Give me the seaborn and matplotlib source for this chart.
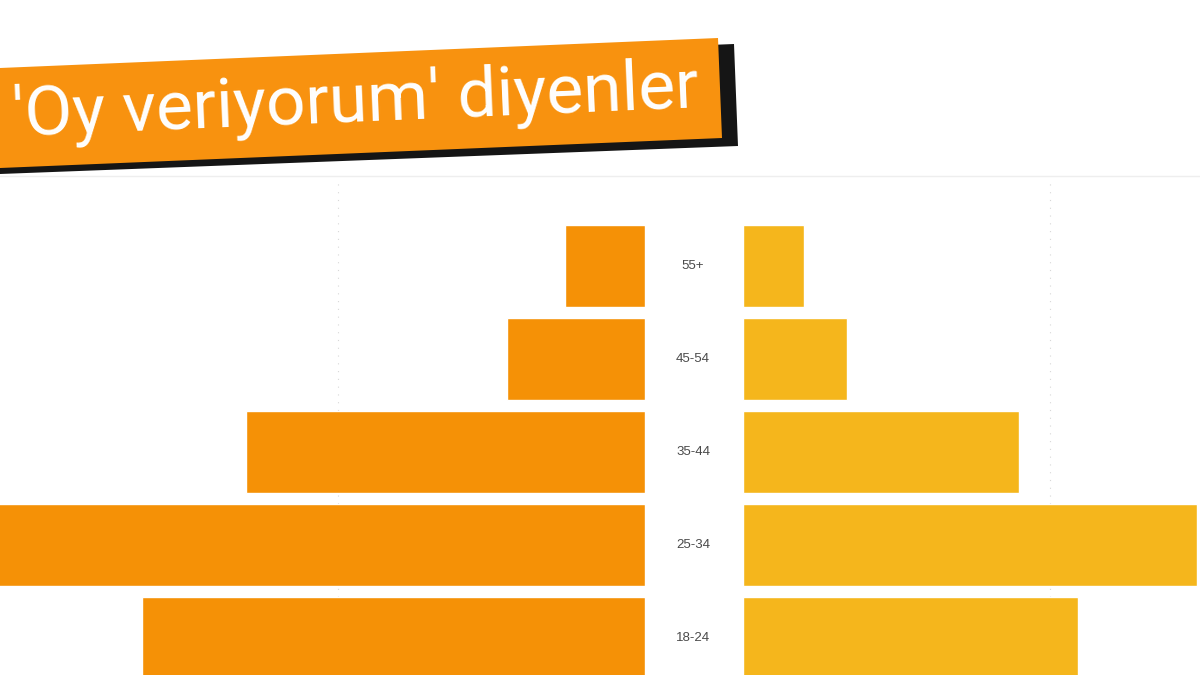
import matplotlib.pyplot as plt
import matplotlib.transforms as mtransforms
from matplotlib.patches import Polygon
import seaborn as sns

# age groups, top to bottom
age_groups = ["55+", "45-54", "35-44", "25-34", "18-24"]
left_values = [2.6, 4.5, 13.0, 22.0, 16.4]
right_values = [2.0, 3.4, 9.0, 14.8, 10.9]
banner_title = "'Oy veriyorum' diyenler"

LEFT_COLOR = "#F59106"
RIGHT_COLOR = "#F5B61C"
BANNER_COLOR = "#F8920F"

sns.set_theme(style="white")
plt.rcParams['font.family'] = ['Liberation Sans', 'DejaVu Sans']

W, H = 1200, 675
fig = plt.figure(figsize=(12, 6.75), dpi=100)

def px_box(x0, y0, x1, y1):
    # pixel box (top-left origin) -> figure fraction rect
    return [x0 / W, 1 - y1 / H, (x1 - x0) / W, (y1 - y0) / H]

ax_l = fig.add_axes(px_box(0, 180, 645, 675))
ax_r = fig.add_axes(px_box(743, 180, 1200, 675))

sns.barplot(x=left_values, y=age_groups, ax=ax_l, color=LEFT_COLOR,
            orient="h", width=0.89, saturation=1)
sns.barplot(x=right_values, y=age_groups, ax=ax_r, color=RIGHT_COLOR,
            orient="h", width=0.89, saturation=1)

px_unit = 30.7  # pixels per unit
y_top = -(266 - 180) / 93
y_bot = (675 - 266) / 93
ax_l.set_xlim(645 / px_unit, 0)
ax_r.set_xlim(0, 457 / px_unit)
for ax in (ax_l, ax_r):
    ax.set_ylim(y_bot, y_top)
    ax.set_xlabel("")
    ax.set_ylabel("")
    ax.set_xticks([])
    ax.set_yticks([])
    ax.axvline(10, color="#d8d8d8", lw=0.8, ls=(0, (1, 6)), zorder=0)
    for s in ax.spines.values():
        s.set_visible(False)
    ax.patch.set_alpha(0)

# category labels between the two halves
trans = mtransforms.blended_transform_factory(fig.transFigure, ax_l.transData)
for i, label in enumerate(age_groups):
    fig.text(693 / W, i, label, transform=trans, ha="center", va="center",
             fontsize=9.5, color="#4a4a4a")

# faint separator line under the banner
fig.add_artist(plt.Line2D([0, 1], [1 - 176 / H, 1 - 176 / H],
                          transform=fig.transFigure, color="#eeeeee", lw=1))

# banner with shadow
def px_pts(pts):
    return [(x / W, 1 - y / H) for x, y in pts]

shadow = Polygon(px_pts([(0, 74), (734, 44), (738, 146), (0, 174)]),
                 closed=True, transform=fig.transFigure, facecolor="#151515",
                 edgecolor="none")
banner = Polygon(px_pts([(0, 68), (718, 38), (722, 138), (0, 168)]),
                 closed=True, transform=fig.transFigure, facecolor=BANNER_COLOR,
                 edgecolor="none")
fig.add_artist(shadow)
fig.add_artist(banner)
fig.text(356 / W, 1 - 102 / H, banner_title, ha="center", va="center",
         rotation=2.4, rotation_mode="anchor", color="white", fontsize=50,
         family=['Roboto', 'DejaVu Sans'])

fig.savefig("out.png", dpi=100, facecolor="white")
